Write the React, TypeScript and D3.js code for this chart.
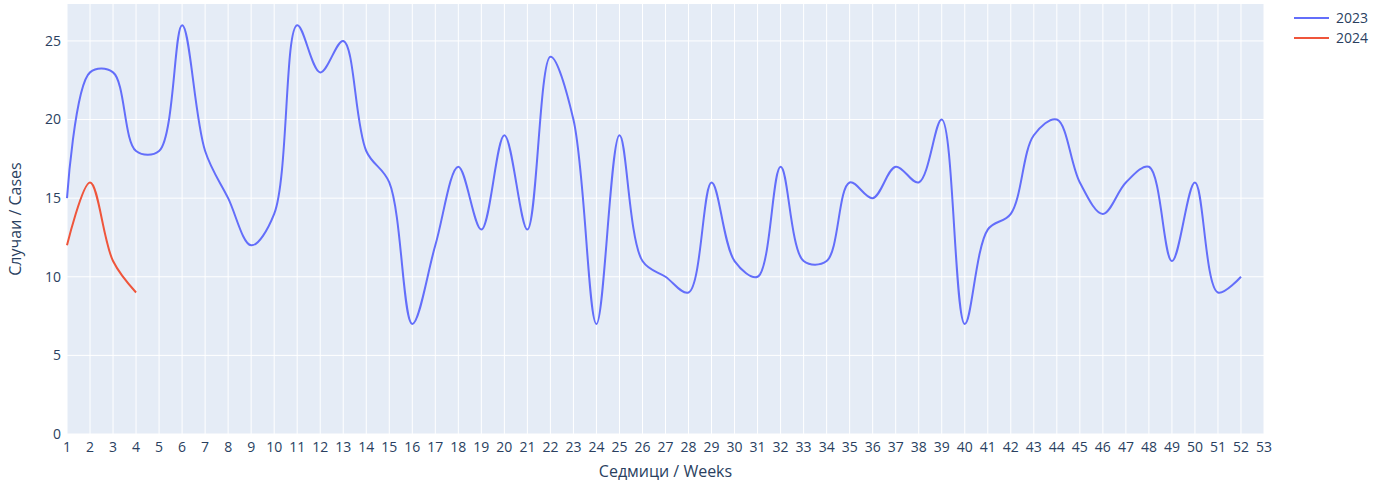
import React from 'react';
import * as d3 from 'd3';

const weeks = d3.range(1, 53);
const cases2023 = [
  15, 23, 23, 18, 18, 26, 18, 15, 12, 14, 26, 23, 25, 18, 16, 7, 12, 17, 13, 19,
  13, 24, 20, 7, 19, 11, 10, 9, 16, 11, 10, 17, 11, 11, 16, 15, 17, 16, 20, 7,
  13, 14, 19, 20, 16, 14, 16, 17, 11, 16, 9, 10
];
const weeks2024 = [1, 2, 3, 4];
const cases2024 = [12, 16, 11, 9];
const xTicks = d3.range(1, 54);
const yTicks = [0, 5, 10, 15, 20, 25];

const series = [
  { name: '2023', x: weeks, y: cases2023, color: '#636efa' },
  { name: '2024', x: weeks2024, y: cases2024, color: '#EF553B' }
];

const W = 1386;
const H = 486;
const margin = { top: 4, right: 122, bottom: 52, left: 67 };
const font = '"Open Sans", verdana, arial, sans-serif';
const textColor = '#2a3f5f';

const App = () => {
  const innerW = W - margin.left - margin.right;
  const innerH = H - margin.top - margin.bottom;

  const x = d3.scaleLinear().domain([1, 53]).range([0, innerW]);
  const y = d3.scaleLinear().domain([0, 27.35]).range([innerH, 0]);

  const line = d3
    .line<[number, number]>()
    .x(d => x(d[0]))
    .y(d => y(d[1]))
    .curve(d3.curveCatmullRom.alpha(0.5));

  return (
    <svg width={W} height={H} style={{ position: 'absolute', left: 0, top: 0, background: '#fff' }}>
      <g transform={`translate(${margin.left},${margin.top})`}>
        <rect width={innerW} height={innerH} fill="#E5ECF6" />
        {xTicks.map(t => (
          <line key={'gx' + t} x1={x(t)} x2={x(t)} y1={0} y2={innerH} stroke="#fff" strokeWidth={1} />
        ))}
        {yTicks.map(t => (
          <line key={'gy' + t} x1={0} x2={innerW} y1={y(t)} y2={y(t)} stroke="#fff" strokeWidth={1} />
        ))}
        {series.map(s => (
          <path
            key={s.name}
            d={line(s.x.map((v, i) => [v, s.y[i]] as [number, number])) || ''}
            fill="none"
            stroke={s.color}
            strokeWidth={2}
          />
        ))}
        {xTicks.map(t => (
          <text
            key={'tx' + t}
            x={x(t)}
            y={innerH + 18}
            textAnchor="middle"
            fontFamily={font}
            fontSize={14}
            fill={textColor}
          >
            {t}
          </text>
        ))}
        {yTicks.map(t => (
          <text
            key={'ty' + t}
            x={-6}
            y={y(t)}
            dy="0.35em"
            textAnchor="end"
            fontFamily={font}
            fontSize={14}
            fill={textColor}
          >
            {t}
          </text>
        ))}
        <text
          x={innerW / 2}
          y={innerH + 43}
          textAnchor="middle"
          fontFamily={font}
          fontSize={16}
          fill={textColor}
        >
          Седмици / Weeks
        </text>
        <text
          transform={`translate(${-46},${innerH / 2}) rotate(-90)`}
          textAnchor="middle"
          fontFamily={font}
          fontSize={16}
          fill={textColor}
        >
          Случаи / Cases
        </text>
      </g>
      <g transform="translate(1294,18)">
        {series.map((s, i) => (
          <g key={s.name} transform={`translate(0,${i * 20})`}>
            <line x1={0} x2={35} y1={0} y2={0} stroke={s.color} strokeWidth={2} />
            <text x={42} y={0} dy="0.35em" fontFamily={font} fontSize={14} fill={textColor}>
              {s.name}
            </text>
          </g>
        ))}
      </g>
    </svg>
  );
};

export default App;
